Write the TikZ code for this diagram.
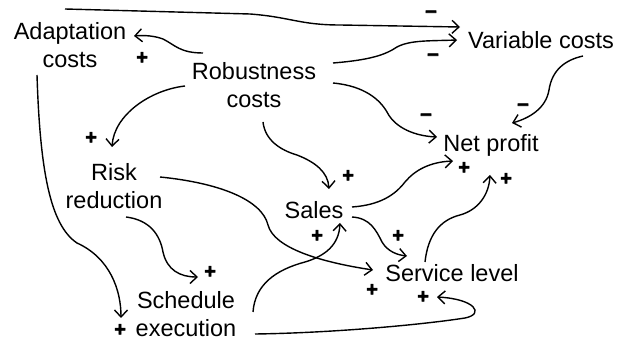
\documentclass[tikz,border=0pt]{standalone}
\usepackage{fontspec}
\setmainfont{Liberation Sans}
\newfontfamily\signfont[FakeBold=2.5,Ligatures=TeX]{Liberation Sans Bold}
\usetikzlibrary{arrows.meta}
\begin{document}
\begin{tikzpicture}[x=1pt,y=-1pt,
  lbl/.style={inner sep=0pt,align=center,font=\fontsize{23.5}{27.5}\selectfont},
  sgn/.style={inner sep=0pt,font=\fontsize{20}{20}\signfont},
  msgn/.style={inner sep=0pt,font=\fontsize{21}{21}\signfont},
  link/.style={line width=1.4pt,-{Straight Barb[length=7pt,width=13pt,line width=1.4pt]}}]
\useasboundingbox (0,0) rectangle (619,339);
\fill[white] (0,0) rectangle (619,339);
% nodes
\node[lbl] (adapt) at (70,45) {Adaptation\\costs};
\node[lbl] (robust) at (254,85) {Robustness\\costs};
\node[lbl] (var) at (541,40) {Variable costs};
\node[lbl] (net) at (491,145) {Net profit};
\node[lbl] (risk) at (114,186) {Risk\\reduction};
\node[lbl] (sales) at (314,210) {Sales};
\node[lbl] (service) at (452,273) {Service level};
\node[lbl] (sched) at (186,314) {Schedule\\execution};
% signs
\node[sgn] (s1) at (142,58) {+};
\node[sgn] (s2) at (91,138) {+};
\node[msgn] (s3) at (431,14) {–};
\node[msgn] (s4) at (433,57) {–};
\node[msgn] (s5) at (426,117) {–};
\node[msgn] (s6) at (523,107) {–};
\node[sgn] (s7) at (348,176) {+};
\node[sgn] (s8) at (464,168) {+};
\node[sgn] (s9) at (506,179) {+};
\node[sgn] (s10) at (317,236) {+};
\node[sgn] (s11) at (398,236) {+};
\node[sgn] (s12) at (210,272) {+};
\node[sgn] (s13) at (372,290) {+};
\node[sgn] (s14) at (423,297) {+};
\node[sgn] (s15) at (120,330) {+};
% connectors
\draw[link] ([shift={(-51,-32)}]robust.center) .. controls (180,53) and (175,45) .. (163,39) .. controls (155,36) and (145,35) .. ([shift={(64,-9)}]adapt.center);
\draw[link] ([shift={(-69,1)}]robust.center) .. controls (150,90) and (114,115) .. ([shift={(-2,-39)}]risk.center);
\draw[link] ([shift={(-5,-36)}]adapt.center) -- (250,14) .. controls (290,17) and (300,25) .. (340,25) -- ([shift={(-81,-13)}]var.center);
\draw[link] ([shift={(79,-22)}]robust.center) .. controls (370,60) and (385,55) .. (397,47) .. controls (410,40) and (430,41) .. ([shift={(-84,0)}]var.center);
\draw[link] ([shift={(79,-2)}]robust.center) .. controls (365,86) and (380,100) .. (387,112) .. controls (395,128) and (415,136) .. ([shift={(-54,-8)}]net.center);
\draw[link] ([shift={(42,16)}]var.center) .. controls (565,60) and (552,70) .. (549,90) .. controls (546,108) and (530,118) .. ([shift={(21,-22)}]net.center);
\draw[link] ([shift={(9,37)}]robust.center) .. controls (265,140) and (280,150) .. (297,155) .. controls (315,162) and (328,172) .. ([shift={(15,-21)}]sales.center);
\draw[link] ([shift={(38,-3)}]sales.center) .. controls (380,205) and (395,195) .. (405,182) .. controls (415,170) and (430,162) .. ([shift={(-38,16)}]net.center);
\draw[link] ([shift={(38,7)}]sales.center) .. controls (370,218) and (376,230) .. (382,242) .. controls (388,252) and (398,255) .. ([shift={(-45,-17)}]service.center);
\draw[link] ([shift={(-27,-11)}]service.center) .. controls (428,235) and (440,220) .. (460,215) .. controls (478,210) and (489,195) .. ([shift={(-1,30)}]net.center);
\draw[link] ([shift={(46,-9)}]risk.center) .. controls (220,183) and (262,200) .. (268,225) .. controls (274,248) and (320,262) .. ([shift={(-79,-3)}]service.center);
\draw[link] ([shift={(67,-2)}]sched.center) .. controls (255,285) and (275,270) .. (305,262) .. controls (325,256) and (339,245) .. ([shift={(26,13)}]sales.center);
\draw[link] ([shift={(69,20)}]sched.center) .. controls (330,333) and (420,325) .. (465,318) .. controls (485,314) and (475,299) .. ([shift={(-15,24)}]service.center);
\draw[link] ([shift={(12,31)}]risk.center) .. controls (150,220) and (160,235) .. (163,252) .. controls (167,270) and (180,277) .. ([shift={(12,-37)}]sched.center);
\draw[link] ([shift={(-33,30)}]adapt.center) .. controls (40,170) and (50,225) .. (77,243) .. controls (110,258) and (121,290) .. ([shift={(-65,4)}]sched.center);
\end{tikzpicture}
\end{document}
